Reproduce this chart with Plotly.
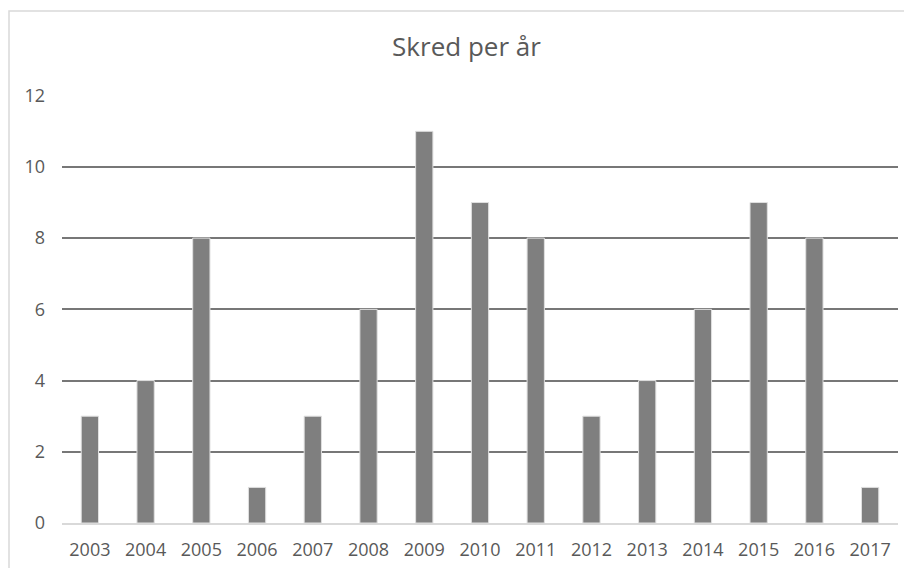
import plotly.graph_objects as go

years = ["2003", "2004", "2005", "2006", "2007", "2008", "2009", "2010",
         "2011", "2012", "2013", "2014", "2015", "2016", "2017"]
counts = [3, 4, 8, 1, 3, 6, 11, 9, 8, 3, 4, 6, 9, 8, 1]
y_ticks = [0, 2, 4, 6, 8, 10, 12]
title_text = "Skred per år"

# page body has an 8px margin; the figure fills the rest of the window
OFF = 8
W, H = 912 - OFF, 568 - OFF
L, R, T, B = 62 - OFF, 14, 95 - OFF, 45
pw, ph = W - L - R, H - T - B

fig = go.Figure()
fig.add_trace(go.Bar(
    x=years, y=counts,
    marker=dict(color="#7f7f7f", line=dict(color="#e0e0e0", width=1)),
    hoverinfo="x+y",
))

font_family = "Open Sans, DejaVu Sans, sans-serif"

fig.update_layout(
    width=W, height=H,
    margin=dict(l=L, r=R, t=T, b=B, pad=0, autoexpand=False),
    paper_bgcolor="white", plot_bgcolor="white",
    bargap=0.69,
    showlegend=False,
    title=dict(text=title_text, x=(466.5 - OFF) / W, xanchor="center",
               y=1 - (47 - OFF) / H, yanchor="middle",
               font=dict(family=font_family, size=26, color="#595959"),
               automargin=False),
    xaxis=dict(
        type="category", automargin=False,
        showgrid=False, showline=True, linecolor="#d9d9d9", linewidth=1.5,
        ticks="", ticklabelstandoff=10,
        tickfont=dict(family=font_family, size=18, color="#595959"),
    ),
    yaxis=dict(
        range=[0, 12.02], tickvals=y_ticks, automargin=False,
        showgrid=True, gridcolor="#777777", gridwidth=1.5,
        zeroline=False, showline=False, ticks="",
        ticklabelstandoff=16,
        tickfont=dict(family=font_family, size=18, color="#595959"),
    ),
    shapes=[dict(
        type="rect", xref="paper", yref="paper",
        x0=(9 - 62) / pw, x1=(W + 20 - L) / pw,
        y0=-(B + 20) / ph, y1=1 + (95 - 11) / ph,
        line=dict(color="#d9d9d9", width=1.5), fillcolor="rgba(0,0,0,0)",
        layer="below",
    )],
)

fig.write_html("out.html")
